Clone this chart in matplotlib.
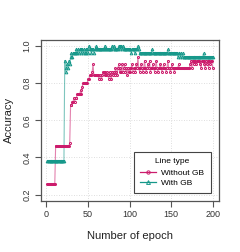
import matplotlib
matplotlib.use("Agg")
import matplotlib.pyplot as plt
from matplotlib.lines import Line2D
import numpy as np

plt.rcParams['font.family'] = ['Liberation Sans', 'DejaVu Sans']

epochs = list(range(1, 201))

acc_without_gb = [
    0.26, 0.26, 0.26, 0.26, 0.26, 0.26, 0.26, 0.26, 0.26, 0.26,
    0.46, 0.46, 0.46, 0.46, 0.46, 0.46, 0.46, 0.46, 0.46, 0.46,
    0.46, 0.46, 0.46, 0.46, 0.46, 0.46, 0.46, 0.48, 0.68, 0.68,
    0.70, 0.70, 0.72, 0.70, 0.72, 0.72, 0.74, 0.74, 0.74, 0.74,
    0.76, 0.74, 0.78, 0.80, 0.80, 0.80, 0.80, 0.80, 0.80, 0.82,
    0.82, 0.84, 0.84, 0.84, 0.86, 0.90, 0.84, 0.84, 0.84, 0.84,
    0.84, 0.84, 0.82, 0.84, 0.84, 0.82, 0.84, 0.86, 0.86, 0.84,
    0.86, 0.84, 0.86, 0.84, 0.82, 0.86, 0.84, 0.82, 0.86, 0.84,
    0.86, 0.84, 0.88, 0.86, 0.84, 0.88, 0.90, 0.86, 0.88, 0.86,
    0.90, 0.86, 0.88, 0.90, 0.86, 0.88, 0.84, 0.88, 0.86, 0.88,
    0.86, 0.88, 0.90, 0.86, 0.88, 0.88, 0.86, 0.90, 0.88, 0.94,
    0.88, 0.86, 0.88, 0.90, 0.88, 0.86, 0.88, 0.92, 0.88, 0.86,
    0.88, 0.90, 0.88, 0.92, 0.86, 0.88, 0.88, 0.90, 0.88, 0.86,
    0.88, 0.92, 0.88, 0.86, 0.88, 0.88, 0.90, 0.88, 0.86, 0.88,
    0.90, 0.88, 0.88, 0.86, 0.88, 0.92, 0.88, 0.88, 0.86, 0.88,
    0.90, 0.88, 0.88, 0.86, 0.88, 0.88, 0.88, 0.88, 0.90, 0.88,
    0.88, 0.88, 0.88, 0.88, 0.88, 0.88, 0.88, 0.88, 0.88, 0.88,
    0.88, 0.88, 0.90, 0.92, 0.88, 0.92, 0.90, 0.92, 0.92, 0.90,
    0.92, 0.92, 0.92, 0.92, 0.90, 0.88, 0.92, 0.92, 0.92, 0.90,
    0.88, 0.92, 0.90, 0.92, 0.88, 0.92, 0.90, 0.92, 0.92, 0.88,
]

acc_with_gb = [
    0.38, 0.38, 0.38, 0.38, 0.38, 0.38, 0.38, 0.38, 0.38, 0.38,
    0.38, 0.38, 0.38, 0.38, 0.38, 0.38, 0.38, 0.38, 0.38, 0.38,
    0.38, 0.92, 0.86, 0.88, 0.90, 0.88, 0.92, 0.90, 0.94, 0.96,
    0.94, 0.96, 0.96, 0.96, 0.96, 0.98, 0.96, 0.98, 0.96, 0.98,
    0.98, 0.96, 0.98, 0.96, 0.98, 0.96, 0.98, 0.96, 0.98, 0.96,
    1.00, 0.98, 0.98, 0.96, 0.98, 0.98, 0.96, 0.98, 0.98, 1.00,
    0.98, 0.98, 0.98, 0.98, 0.98, 0.98, 0.98, 0.98, 0.98, 1.00,
    0.98, 0.98, 0.98, 0.98, 0.98, 0.98, 0.98, 0.98, 1.00, 0.98,
    1.00, 0.98, 0.98, 0.98, 0.98, 0.98, 1.00, 0.98, 1.00, 1.00,
    0.98, 1.00, 0.98, 0.98, 0.98, 0.98, 0.98, 0.98, 0.98, 0.98,
    0.98, 0.96, 0.98, 0.98, 0.98, 0.96, 0.98, 0.98, 0.98, 1.00,
    0.98, 0.96, 0.96, 0.96, 0.96, 0.96, 0.96, 0.96, 0.96, 0.96,
    0.96, 0.96, 0.96, 0.96, 0.96, 0.96, 0.98, 0.96, 0.96, 0.96,
    0.96, 0.96, 0.96, 0.96, 0.96, 0.96, 0.96, 0.96, 0.96, 0.96,
    0.96, 0.96, 0.96, 0.96, 0.96, 0.98, 0.96, 0.96, 0.96, 0.96,
    0.96, 0.96, 0.96, 0.96, 0.96, 0.96, 0.96, 0.94, 0.96, 0.96,
    0.94, 0.96, 0.94, 0.96, 0.94, 0.94, 0.94, 0.94, 0.94, 0.94,
    0.94, 0.94, 0.94, 0.94, 0.94, 0.94, 0.94, 0.94, 0.94, 0.94,
    0.94, 0.94, 0.94, 0.94, 0.94, 0.94, 0.94, 0.94, 0.96, 0.94,
    0.94, 0.94, 0.94, 0.94, 0.94, 0.94, 0.94, 0.94, 0.94, 0.94,
]

series_labels = ["Without GB", "With GB"]
legend_title = "Line type"
x_ticks = [0, 50, 100, 150, 200]
y_ticks = [0.2, 0.4, 0.6, 0.8, 1.0]

pink = "#CC1C6C"
teal = "#16988A"

W, H = 240, 252
fig = plt.figure(figsize=(W / 100, H / 100), dpi=100)
ax = fig.add_axes([40.7 / W, 1 - 200.7 / H, (219.3 - 40.7) / W, (200.7 - 39.7) / H])

for vals, col, mk, ms in [(acc_without_gb, pink, 'o', 1.5), (acc_with_gb, teal, '^', 1.9)]:
    ax.plot(epochs, vals, color=col, lw=0.8, alpha=0.55, zorder=2)
    ax.plot(epochs, vals, linestyle='none', marker=mk, markersize=ms,
            mfc='none', mec=col, mew=0.7, zorder=3)

ax.set_xlim(1 - 199 * 0.04, 200 + 199 * 0.04)
ax.set_ylim(0.2 - 0.8 * 0.04, 1.0 + 0.8 * 0.04)
ax.set_xticks(x_ticks)
ax.set_yticks(y_ticks)
ax.set_xticklabels([str(t) for t in x_ticks])
ax.set_yticklabels([f"{t:.1f}" for t in y_ticks], rotation=90, va='center')
ax.grid(True, color='#d4d4d4', linestyle=(0, (1, 2)), linewidth=0.6, zorder=0)
for s in ax.spines.values():
    s.set_color('#555555')
    s.set_linewidth(0.9)
ax.tick_params(direction='out', length=4, width=0.8, color='#555555',
               labelsize=6.5, labelcolor='#333333', pad=2.5)
ax.set_xlabel("Number of epoch", fontsize=8, color='#222222', labelpad=9)
ax.set_ylabel("Accuracy", fontsize=8, color='#222222', labelpad=6)

handles = [
    Line2D([], [], color=pink, lw=0.9, marker='o', markersize=2.4, mfc='none', mec=pink, mew=0.7),
    Line2D([], [], color=teal, lw=0.9, marker='^', markersize=2.8, mfc='none', mec=teal, mew=0.7),
]
leg = ax.legend(handles, series_labels, title=legend_title, loc='lower right',
                bbox_to_anchor=((210.7 - 40.7) / (219.3 - 40.7), (200.7 - 193.3) / (200.7 - 39.7)),
                fontsize=6, title_fontsize=6, frameon=True, fancybox=False,
                edgecolor='#444444', framealpha=1, borderpad=0.75, handlelength=1.9,
                handletextpad=0.6, labelspacing=0.25, borderaxespad=0)
leg.get_frame().set_linewidth(0.8)
leg._legend_box.sep = 3

fig.savefig("out.png", dpi=100)
